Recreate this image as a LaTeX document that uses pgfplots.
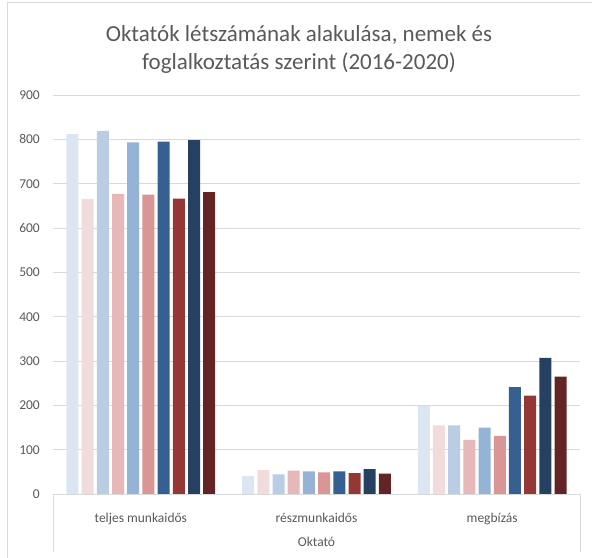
\documentclass[border=0pt]{standalone}
\usepackage{pgfplots}
\pgfplotsset{compat=1.18}
\usepackage{fontspec}
\setmainfont{Carlito}
\definecolor{txt}{HTML}{595959}
\definecolor{grd}{HTML}{D9D9D9}
\definecolor{cA}{HTML}{DCE6F2}
\definecolor{cB}{HTML}{F2DCDB}
\definecolor{cC}{HTML}{B9CDE5}
\definecolor{cD}{HTML}{E6B9B8}
\definecolor{cE}{HTML}{95B3D7}
\definecolor{cF}{HTML}{D99694}
\definecolor{cG}{HTML}{376092}
\definecolor{cH}{HTML}{953735}
\definecolor{cI}{HTML}{254061}
\definecolor{cJ}{HTML}{632523}
\begin{document}
\begin{tikzpicture}
\begin{axis}[
  at={(0,0)}, anchor=south west,
  scale only axis, width=527bp, height=399bp,
  xmin=-0.5, xmax=2.5, ymin=0, ymax=900,
  ybar=3.2bp, bar width=12bp,
  xtick={0,1,2},
  xticklabels={teljes munkaidős, részmunkaidős, megbízás},
  ytick={0,100,...,900},
  major tick length=0pt,
  ymajorgrids, major grid style={grd, line width=0.75bp},
  axis line style={draw=none},
  clip=false,
  /pgf/number format/assume math mode=true,
  ticklabel style={font=\fontsize{13.5bp}{16bp}\selectfont, text=txt},
  xticklabel style={anchor=base, yshift=-28bp, inner sep=0pt},
  yticklabel style={anchor=east, inner sep=0pt, xshift=-13bp},
]
\addplot[fill=cA, draw=none] coordinates {(0,812) (1,41) (2,199)};
\addplot[fill=cB, draw=none] coordinates {(0,665) (1,54) (2,155)};
\addplot[fill=cC, draw=none] coordinates {(0,819) (1,44) (2,155)};
\addplot[fill=cD, draw=none] coordinates {(0,677) (1,53) (2,122)};
\addplot[fill=cE, draw=none] coordinates {(0,793) (1,51) (2,150)};
\addplot[fill=cF, draw=none] coordinates {(0,675) (1,49) (2,131)};
\addplot[fill=cG, draw=none] coordinates {(0,795) (1,51) (2,241)};
\addplot[fill=cH, draw=none] coordinates {(0,666) (1,47) (2,222)};
\addplot[fill=cI, draw=none] coordinates {(0,798) (1,56) (2,307)};
\addplot[fill=cJ, draw=none] coordinates {(0,681) (1,46) (2,265)};
\draw[grd, line width=0.75bp] ([yshift=-58bp]axis cs:-0.5,0) -- (axis cs:-0.5,0) -- (axis cs:2.5,0) -- ([yshift=-58bp]axis cs:2.5,0);
\node[anchor=base, text=txt, font=\fontsize{13.5bp}{16bp}\selectfont, inner sep=0pt] at ([yshift=-52bp]axis cs:1,0) {Oktató};
\end{axis}
\node[anchor=base, text=txt, font=\fontsize{23bp}{28bp}\selectfont, inner sep=0pt] at (246bp,452bp) {Oktatók létszámának alakulása, nemek és};
\node[anchor=base, text=txt, font=\fontsize{23bp}{28bp}\selectfont, inner sep=0pt] at (246bp,424bp) {foglalkoztatás szerint (2016-2020)};
\draw[grd, line width=0.75bp] (-46bp,-70bp) -- (-46bp,492bp) -- (545bp,492bp);
\pgfresetboundingbox
\path (-53bp,-64bp) rectangle (539bp,494bp);
\end{tikzpicture}
\end{document}
